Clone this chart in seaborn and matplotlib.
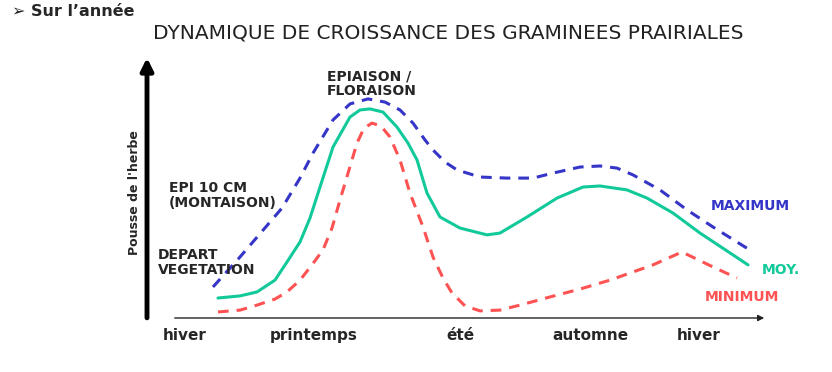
import numpy as np
import pandas as pd
import seaborn as sns
from matplotlib import pyplot as plt

# months from start of winter (0) to next winter (12), growth index 0-100
max_x = [0.82, 1.36, 2.20, 2.56, 2.82, 3.22, 3.56, 3.92, 4.26, 4.56, 4.82, 5.06, 5.22, 5.46,
         5.70, 6.16, 6.70, 7.22, 7.62, 8.16, 8.56, 8.90, 9.22, 9.76, 10.30, 10.82, 11.62]
max_y = [11.8, 23.2, 41.8, 53.2, 62.7, 75.3, 81.4, 83.3, 82.1, 79.1, 74.1, 67.7, 63.9, 59.3,
         56.3, 53.6, 53.2, 53.2, 55.1, 57.4, 57.8, 57.0, 54.4, 48.7, 41.1, 34.6, 25.1]

moy_x = [0.92, 1.36, 1.70, 2.06, 2.30, 2.56, 2.76, 2.96, 3.22, 3.56, 3.76, 3.96, 4.22, 4.50,
         4.72, 4.90, 5.10, 5.36, 5.76, 6.30, 6.56, 7.10, 7.70, 8.22, 8.56, 9.10, 9.50, 10.02,
         10.56, 11.52]
moy_y = [7.6, 8.4, 9.9, 14.4, 21.3, 28.9, 38.0, 49.8, 65.0, 76.4, 79.1, 79.5, 78.3, 72.6,
         66.5, 60.1, 47.5, 38.4, 34.2, 31.6, 32.3, 38.4, 45.6, 49.8, 50.2, 48.7, 45.6, 39.9,
         32.3, 20.2]

min_x = [0.92, 1.36, 1.70, 2.06, 2.30, 2.56, 2.80, 3.02, 3.20, 3.36, 3.54, 3.70, 3.84, 4.00,
         4.18, 4.36, 4.56, 4.76, 5.02, 5.22, 5.42, 5.60, 5.86, 6.16, 6.56, 6.96, 7.56, 8.16,
         8.76, 9.62, 10.20, 10.82, 11.30]
min_y = [2.3, 3.0, 4.9, 7.2, 9.9, 14.4, 20.2, 25.9, 34.2, 44.9, 56.3, 66.5, 72.2, 74.1,
         73.0, 68.8, 60.1, 47.5, 34.6, 23.2, 15.2, 9.5, 4.6, 2.7, 3.0, 4.9, 8.0, 11.0,
         14.4, 20.2, 25.1, 19.4, 15.2]

seasons = ['hiver', 'printemps', 'été', 'automne', 'hiver']
season_pos = [0.26, 2.84, 5.76, 8.36, 10.54]

blue = '#3535C8'
green = '#12C99A'
red = '#FF5252'

sns.set_style('white')
plt.rcParams['font.family'] = ['DejaVu Sans']

fig = plt.figure(figsize=(8.32, 3.72), dpi=100)
ax = fig.add_axes([172/832, 1 - 318/372, 600/832, 263/372])
ax.set_xlim(0, 12)
ax.set_ylim(0, 100)
ax.axis('off')

joins = dict(solid_joinstyle='round', dash_joinstyle='round', solid_capstyle='round')
sns.lineplot(x=max_x, y=max_y, color=blue, lw=2.2, sort=False, ax=ax, clip_on=False, **joins)
ax.lines[-1].set_dashes((3.5, 2.6))
sns.lineplot(x=moy_x, y=moy_y, color=green, lw=2.2, sort=False, ax=ax, clip_on=False, **joins)
sns.lineplot(x=min_x, y=min_y, color=red, lw=2.2, sort=False, ax=ax, clip_on=False, **joins)
ax.lines[-1].set_dashes((3.5, 2.6))

# axes drawn as arrows
ax.annotate('', xy=(11.9, 0), xytext=(0, 0), annotation_clip=False,
            arrowprops=dict(arrowstyle='-|>', color='#222222', lw=1, mutation_scale=9))
ax.annotate('', xy=(-0.5, 100), xytext=(-0.5, -1), annotation_clip=False,
            arrowprops=dict(arrowstyle='-|>', color='black', lw=3.5, mutation_scale=18))

for pos, lab in zip(season_pos, seasons):
    ax.text(pos, -6.5, lab, ha='center', va='center', fontsize=11, fontweight='bold')

ax.text(3.10, 94.5, 'EPIAISON /\nFLORAISON', ha='left', va='top', fontsize=10,
        fontweight='bold', linespacing=1.05)
ax.text(-0.06, 52, 'EPI 10 CM\n(MONTAISON)', ha='left', va='top', fontsize=10,
        fontweight='bold', linespacing=1.05)
ax.text(-0.28, 26.5, 'DEPART\nVEGETATION', ha='left', va='top', fontsize=10,
        fontweight='bold', linespacing=1.05)
ax.text(10.78, 42.6, 'MAXIMUM', color=blue, ha='left', va='center', fontsize=10, fontweight='bold')
ax.text(11.80, 18.3, 'MOY.', color=green, ha='left', va='center', fontsize=10, fontweight='bold')
ax.text(10.66, 8.0, 'MINIMUM', color=red, ha='left', va='center', fontsize=10, fontweight='bold')

fig.text(135/832, 1 - 193/372, "Pousse de l'herbe", rotation=90, ha='center', va='center',
         fontsize=9, fontweight='bold')
fig.text(448/832, 1 - 33/372, 'DYNAMIQUE DE CROISSANCE DES GRAMINEES PRAIRIALES',
         ha='center', va='center', fontsize=14.5, color='#222222')
fig.text(12/832, 1 - 12/372, '➢ Sur l’année', ha='left', va='center', fontsize=11.5,
         fontweight='bold')

plt.savefig('out.png', dpi=100)
